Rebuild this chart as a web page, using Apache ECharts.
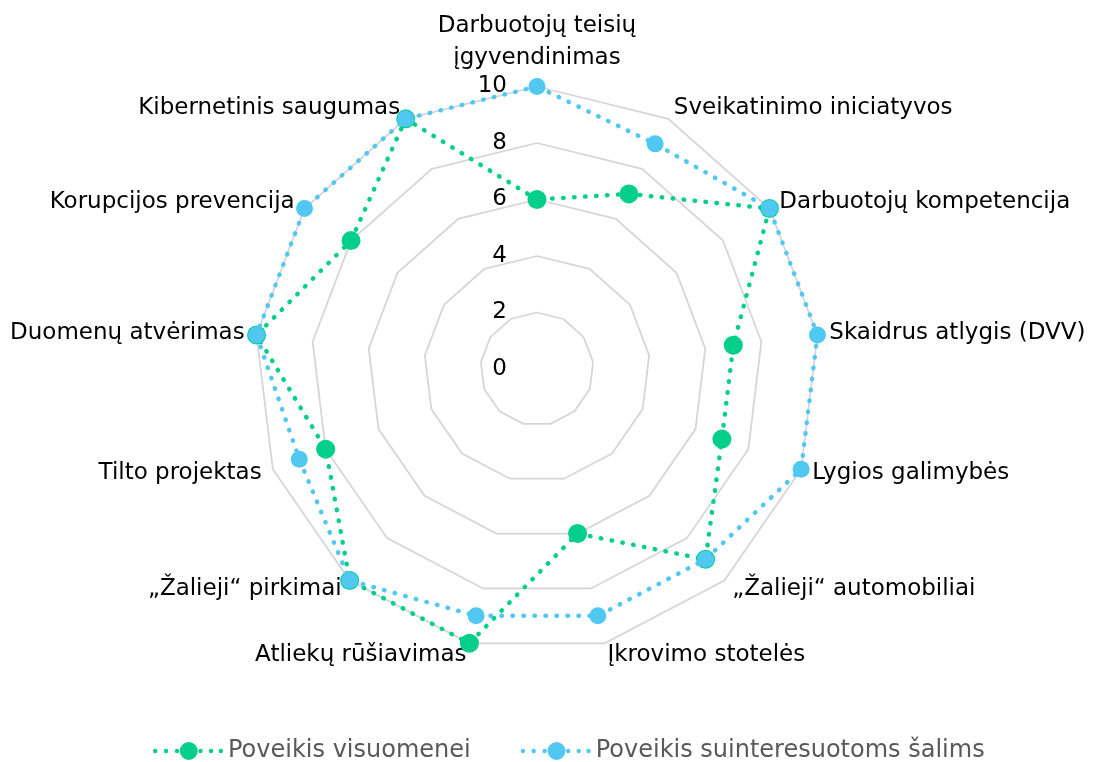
<!DOCTYPE html>
<html>
<head>
<meta charset="utf-8">
<script src="https://cdn.jsdelivr.net/npm/echarts@6/dist/echarts.min.js"></script>
<style>
  html, body { margin: 0; padding: 0; background: #ffffff; }
  #chart { width: 1093px; height: 762px; }
</style>
</head>
<body>
<div id="chart"></div>
<script>
// Radar axes, listed clockwise starting from the top
const categories = [
  'Darbuotojų teisių\nįgyvendinimas',
  'Sveikatinimo iniciatyvos',
  'Darbuotojų kompetencija',
  'Skaidrus atlygis (DVV)',
  'Lygios galimybės',
  '„Žalieji“ automobiliai',
  'Įkrovimo stotelės',
  'Atliekų rūšiavimas',
  '„Žalieji“ pirkimai',
  'Tilto projektas',
  'Duomenų atvėrimas',
  'Korupcijos prevencija',
  'Kibernetinis saugumas'
];

const seriesNames = ['Poveikis visuomenei', 'Poveikis suinteresuotoms šalims'];

// Scores on a 0–10 scale, same order as categories
const poveikisVisuomenei = [6, 7, 10, 7, 7, 9, 6, 10, 10, 8, 10, 8, 10];
const poveikisSuinteresuotoms = [10, 9, 10, 10, 10, 9, 9, 9, 10, 9, 10, 10, 10];

// Scale ticks: 0, 2, 4, 6, 8, 10
const scaleMin = 0;
const scaleMax = 10;
const scaleSplits = 5;

const FONT = 'DejaVu Sans';
const GREEN = '#03CF8B';
const BLUE = '#50C8F2';

// ECharts lays radar indicators out counter-clockwise; keep the first one
// on top and reverse the rest so the categories run clockwise.
const order = [0].concat(categories.map((_, i) => i).slice(1).reverse());
const clockwise = arr => order.map(i => arr[i]);

const indicators = clockwise(categories).map((name, i) => {
  const ind = { name: name, min: scaleMin, max: scaleMax };
  if (i === 0) {
    // numeric scale is only labelled on the top axis
    ind.axisLabel = { show: true };
  }
  return ind;
});

// Legend key: dotted line with a round marker in the middle
function circlePath(cx, cy, r) {
  return 'M' + (cx - r) + ' ' + cy +
    ' A' + r + ' ' + r + ' 0 1 0 ' + (cx + r) + ' ' + cy +
    ' A' + r + ' ' + r + ' 0 1 0 ' + (cx - r) + ' ' + cy + ' Z';
}
const legendIcon = 'path://' + [
  circlePath(2.2, 9, 2.2),
  circlePath(13, 9, 2.2),
  circlePath(24, 9, 2.2),
  circlePath(35.8, 9, 9),
  circlePath(47.5, 9, 2.2),
  circlePath(58, 9, 2.2),
  circlePath(67.8, 9, 2.2)
].join(' ');

const chart = echarts.init(document.getElementById('chart'), null, { renderer: 'canvas' });

chart.setOption({
  backgroundColor: '#ffffff',
  animation: false,
  legend: {
    top: 734,
    left: 148,
    icon: legendIcon,
    itemWidth: 70,
    itemHeight: 18,
    itemGap: 50,
    textStyle: { fontFamily: FONT, fontSize: 24, color: '#595959' },
    data: seriesNames
  },
  radar: {
    center: [537, 369],
    radius: 282.5,
    startAngle: 90,
    splitNumber: scaleSplits,
    shape: 'polygon',
    indicator: indicators,
    axisNameGap: 12,
    axisName: {
      color: '#000000',
      fontFamily: FONT,
      fontSize: 23,
      lineHeight: 32
    },
    axisLine: { show: false },
    axisTick: { show: false },
    axisLabel: {
      show: false,
      color: '#000000',
      fontFamily: FONT,
      fontSize: 23,
      margin: 30
    },
    splitLine: { lineStyle: { color: '#D6D6D6', width: 1.8 } },
    splitArea: { show: false }
  },
  series: [
    {
      name: seriesNames[0],
      type: 'radar',
      z: 2,
      symbol: 'circle',
      symbolSize: 19,
      itemStyle: { color: GREEN },
      lineStyle: { color: GREEN, width: 4.5, type: [0.5, 10.5], cap: 'round' },
      data: [{ value: clockwise(poveikisVisuomenei), name: seriesNames[0] }]
    },
    {
      name: seriesNames[1],
      type: 'radar',
      z: 3,
      symbol: 'circle',
      symbolSize: 17,
      itemStyle: { color: BLUE },
      lineStyle: { color: BLUE, width: 4.5, type: [0.5, 10.5], cap: 'round' },
      data: [{ value: clockwise(poveikisSuinteresuotoms), name: seriesNames[1] }]
    }
  ]
});
</script>
</body>
</html>
